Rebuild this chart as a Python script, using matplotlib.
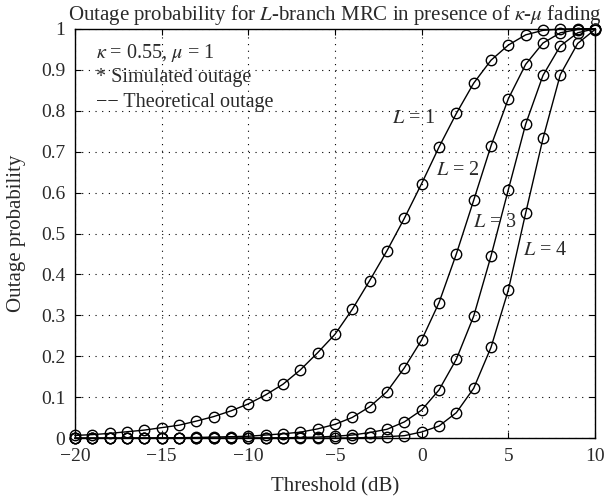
import numpy as np
import matplotlib
matplotlib.use("Agg")
import matplotlib.pyplot as plt

plt.rcParams['font.family'] = ['Liberation Serif', 'DejaVu Serif']
plt.rcParams['mathtext.fontset'] = 'stix'

threshold_db = list(range(-20, 11))

outage_L1 = [0.007, 0.009, 0.012, 0.016, 0.020, 0.026, 0.032, 0.042, 0.053, 0.067,
             0.084, 0.106, 0.132, 0.167, 0.209, 0.254, 0.315, 0.385, 0.458, 0.537,
             0.622, 0.711, 0.793, 0.867, 0.923, 0.960, 0.985, 0.996, 0.999, 1.0, 1.0]
outage_L2 = [0.0003, 0.0004, 0.0005, 0.0006, 0.0008, 0.001, 0.0015, 0.002, 0.003, 0.004,
             0.005, 0.008, 0.011, 0.015, 0.023, 0.034, 0.051, 0.077, 0.114, 0.172,
             0.240, 0.331, 0.450, 0.581, 0.714, 0.829, 0.913, 0.965, 0.990, 0.998, 1.0]
outage_L3 = [0.0, 0.0, 0.0, 0.0, 0.0, 0.0001, 0.0001, 0.0002, 0.0003, 0.0005,
             0.0007, 0.001, 0.0012, 0.002, 0.003, 0.005, 0.008, 0.014, 0.022, 0.040,
             0.069, 0.118, 0.193, 0.298, 0.445, 0.607, 0.767, 0.886, 0.958, 0.990, 1.0]
outage_L4 = [0.0, 0.0, 0.0, 0.0, 0.0, 0.0, 0.0, 0.0, 0.0, 0.0,
             0.0, 0.0, 0.0001, 0.0002, 0.0003, 0.0005, 0.001, 0.002, 0.004, 0.0064,
             0.0154, 0.030, 0.0626, 0.122, 0.222, 0.362, 0.550, 0.732, 0.888, 0.964, 0.998]

series = [outage_L1, outage_L2, outage_L3, outage_L4]
curve_labels = [r'$L$ = 1', r'$L$ = 2', r'$L$ = 3', r'$L$ = 4']
label_pos = [(-1.7, 0.781), (0.85, 0.654), (2.95, 0.528), (5.85, 0.459)]

xticks = [-20, -15, -10, -5, 0, 5, 10]
yticks = [0, 0.1, 0.2, 0.3, 0.4, 0.5, 0.6, 0.7, 0.8, 0.9, 1]
ytick_labels = ['0', '0.1', '0.2', '0.3', '0.4', '0.5', '0.6', '0.7', '0.8', '0.9', '1']

TXT = '#2a2a2a'

fig = plt.figure(figsize=(6.06, 5.01), dpi=100)
ax = fig.add_axes([75/606, 1 - 438.3/501, 520/606, 409.6/501])

for ys in series:
    ax.plot(threshold_db, ys, '-', color='black', lw=1.0, marker='o', ms=7.5,
            mfc='none', mec='black', mew=1.0, clip_on=False, zorder=3)

for lab, (lx, ly) in zip(curve_labels, label_pos):
    ax.text(lx, ly, lab, fontsize=14.5, ha='left', va='center', color=TXT)

ax.set_xlim(-20, 10)
ax.set_ylim(0, 1)
ax.set_xticks(xticks)
ax.set_xticklabels(['\u221220', '\u221215', '\u221210', '\u22125', '0', '5', '10'])
ax.set_yticks(yticks)
ax.set_yticklabels(ytick_labels)
ax.tick_params(direction='in', top=True, right=True, labelsize=14, length=4,
               width=0.8, colors='black', labelcolor=TXT)
ax.tick_params(axis='x', pad=7)
ax.tick_params(axis='y', pad=7)
ax.grid(True, linestyle=(0, (1, 5)), color='black', lw=0.8)
for s in ax.spines.values():
    s.set_linewidth(1.0)

ax.set_xlabel('Threshold (dB)', fontsize=15, color=TXT, labelpad=9)
ax.set_ylabel('Outage probability', fontsize=15, color=TXT, labelpad=11)
ax.set_title(r'Outage probability for $L$-branch MRC in presence of $\kappa$-$\mu$ fading',
             fontsize=15, color=TXT, pad=6)

ax.text(0.04, 0.968, r'$\kappa$ = 0.55, $\mu$ = 1', transform=ax.transAxes,
        fontsize=14.5, va='top', ha='left', color=TXT)
ax.text(0.04, 0.905, '* Simulated outage', transform=ax.transAxes,
        fontsize=14.5, va='top', ha='left', color=TXT)
ax.text(0.04, 0.842, '\u2212\u2212 Theoretical outage', transform=ax.transAxes,
        fontsize=14.5, va='top', ha='left', color=TXT)

fig.savefig('out.png', dpi=100)
